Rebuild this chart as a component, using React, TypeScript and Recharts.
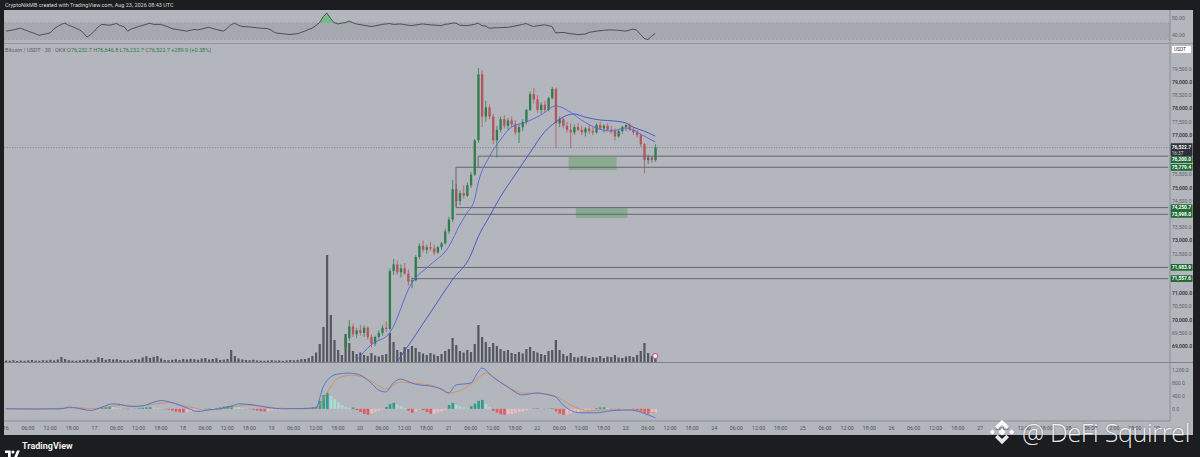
import React from 'react';
import {
  ComposedChart,
  Bar,
  Line,
  Area,
  XAxis,
  YAxis,
  ReferenceLine,
  ReferenceArea,
  ReferenceDot,
  Cell,
} from 'recharts';

// time axis: one slot per hour, hour 0 = day 16 00:00
const FIRST_DAY = 16;
const HOUR_SLOTS = 316;

const rsiPoints: [number, number][] = [
  [0, 50], [2, 53], [4, 57], [6, 50], [8, 44], [9, 40], [11, 44], [12, 46], [13, 55], [14, 61],
  [15, 66], [16, 69], [17, 64], [18, 61], [19, 57], [20, 53], [21, 46], [22, 36], [23, 42], [24, 50],
  [25, 60], [26, 66], [28, 64], [30, 68], [31, 63], [32, 61], [33, 50], [34, 55], [36, 61], [38, 66],
  [39, 69], [40, 66], [42, 66], [44, 60], [45, 56], [47, 53], [49, 50], [51, 54], [52, 53], [54, 57],
  [55, 59], [57, 54], [59, 50], [60, 57], [61, 65], [62, 69], [63, 64], [64, 61], [66, 60], [67, 59],
  [69, 57], [71, 56], [72, 52], [73, 46], [75, 44], [77, 42], [79, 44], [81, 50], [82, 54], [83, 57],
  [84, 63], [85, 70], [86, 84], [87, 93], [88, 80], [89, 70], [90, 67], [91, 69], [92, 70], [93, 74],
  [94, 70], [95, 67], [97, 64], [99, 61], [100, 62], [102, 66], [104, 68], [105, 66], [107, 67], [109, 64],
  [110, 63], [112, 66], [113, 67], [115, 65], [118, 63], [119, 66], [120, 67], [121, 69], [122, 69], [123, 64],
  [125, 63], [127, 66], [128, 69], [129, 63], [130, 62], [131, 57], [133, 58], [136, 59], [138, 62], [140, 66],
  [141, 68], [142, 64], [143, 61], [145, 64], [146, 65], [147, 63], [148, 61], [149, 46], [151, 47], [153, 44],
  [155, 42], [157, 43], [158, 47], [160, 50], [162, 52], [164, 53], [166, 52], [168, 50], [170, 55], [171, 52],
  [172, 42], [173, 33], [174, 30], [175, 38], [176, 45],
];
const rsiTicks = [80, 40];

// volume per hour (BTC)
const volumes = [
  15, 12, 18, 10, 14, 12, 16, 20, 14, 12,
  18, 15, 22, 16, 25, 50, 30, 18, 14, 12,
  16, 20, 25, 18, 22, 48, 40, 22, 30, 25,
  28, 20, 18, 16, 22, 30, 25, 45, 58, 40,
  52, 60, 35, 20, 18, 22, 28, 20, 30, 25,
  32, 28, 22, 35, 40, 25, 30, 38, 20, 24,
  30, 120, 60, 35, 25, 20, 18, 22, 15, 14,
  12, 15, 18, 14, 16, 12, 15, 20, 18, 22,
  28, 30, 40, 60, 95, 180, 350, 1070, 470, 220,
  120, 70, 280, 190, 110, 80, 95, 70, 60, 90,
  65, 55, 70, 80, 290, 200, 120, 100, 150, 130,
  160, 140, 100, 85, 70, 90, 75, 60, 80, 110,
  130, 240, 170, 110, 95, 120, 100, 180, 370, 250,
  200, 150, 190, 160, 130, 110, 120, 90, 80, 100,
  85, 130, 150, 110, 95, 80, 70, 110, 120, 220,
  120, 80, 60, 90, 50, 45, 60, 55, 40, 50,
  45, 60, 40, 55, 50, 70, 45, 40, 55, 60,
  50, 70, 110, 190, 90, 60, 70,
];

// candles from hour 92 on (earlier ones sit below the visible range): open, high, low, close
const CANDLE_START = 92;
const candles: [number, number, number, number][] = [
  [68950, 69350, 68700, 69300], [69300, 69990, 69200, 69750], [69750, 69850, 69350, 69450],
  [69450, 69700, 69300, 69600], [69600, 69800, 69400, 69500], [69500, 69780, 69350, 69700],
  [69700, 69750, 69250, 69350], [69350, 69450, 68950, 69100], [69100, 69400, 69000, 69350],
  [69350, 69600, 69250, 69500], [69500, 69800, 69400, 69700], [69700, 69950, 69550, 69650],
  [69650, 71950, 69600, 71850], [71850, 72300, 71700, 72100], [72100, 72250, 71700, 71800],
  [71800, 72100, 71600, 71950], [71950, 72150, 71700, 71750], [71750, 71900, 71300, 71450],
  [71450, 71600, 71200, 71500], [71500, 72450, 71450, 72380], [72380, 72900, 72300, 72800],
  [72800, 73000, 72550, 72650], [72650, 72850, 72500, 72750], [72750, 72950, 72600, 72700],
  [72700, 72850, 72450, 72550], [72550, 72800, 72500, 72750], [72750, 72950, 72650, 72900],
  [72900, 73450, 72850, 73350], [73350, 73900, 73250, 73800], [73800, 75300, 73700, 74950],
  [74950, 75150, 74300, 74500], [74500, 74900, 74350, 74800], [74800, 75100, 74600, 74700],
  [74700, 75200, 74650, 75100], [75100, 75600, 75000, 75500], [75500, 76850, 75450, 76800],
  [76800, 79540, 76700, 79300], [79300, 79450, 77300, 77700], [77700, 78300, 77500, 78050],
  [78050, 78150, 77600, 77700], [77700, 77800, 76650, 76800], [76800, 77350, 76150, 77200],
  [77200, 77700, 77100, 77600], [77600, 77750, 77250, 77350], [77350, 77650, 77200, 77550],
  [77550, 77700, 77300, 77400], [77400, 77550, 77000, 77100], [77100, 77400, 76700, 77300],
  [77300, 77600, 77150, 77500], [77500, 78000, 77400, 77950], [77950, 78650, 77900, 78550],
  [78550, 78780, 78200, 78350], [78350, 78500, 77850, 77950], [77950, 78250, 77800, 78150],
  [78150, 78300, 77850, 77950], [77950, 78450, 77900, 78400], [78400, 78820, 78350, 78750],
  [78750, 78800, 76500, 77450], [77450, 77700, 77300, 77600], [77600, 77650, 77250, 77350],
  [77350, 77500, 77100, 77200], [77200, 77450, 76500, 77100], [77100, 77400, 77000, 77300],
  [77300, 77450, 77150, 77200], [77200, 77350, 77000, 77100], [77100, 77300, 76950, 77250],
  [77250, 77380, 77050, 77150], [77150, 77300, 77000, 77100], [77100, 77450, 77050, 77380],
  [77380, 77500, 77200, 77250], [77250, 77420, 77100, 77350], [77350, 77450, 77150, 77200],
  [77200, 77350, 77050, 77150], [77150, 77250, 76800, 76950], [76950, 77200, 76900, 77150],
  [77150, 77350, 77050, 77300], [77300, 77420, 77150, 77380], [77380, 77450, 77150, 77200],
  [77200, 77300, 77000, 77100], [77100, 77200, 76900, 77000], [77000, 77050, 76550, 76650],
  [76650, 76700, 75550, 76050], [76050, 76250, 75900, 76150], [76150, 76200, 75950, 76050],
  [76050, 76650, 75980, 76522.7],
];

// moving averages, [hour, price]
const maFastPoints: [number, number][] = [
  [95, 68450], [99, 69050], [104, 69500], [110, 71390], [115, 72080], [120, 72760], [123, 73590],
  [125, 74050], [127, 74540], [128, 75180], [131, 76170], [134, 76810], [137, 77300], [141, 77490],
  [145, 77760], [149, 78100], [153, 77870], [156, 77570], [160, 77270], [164, 77150], [168, 77270],
  [170, 77190], [173, 76960], [176, 76740],
];
const maSlowPoints: [number, number][] = [
  [106, 68400], [111, 69420], [115, 70260], [121, 71510], [126, 72450], [128, 73140], [131, 73900],
  [134, 74650], [138, 75490], [142, 76320], [146, 77120], [149, 77490], [151, 77680], [154, 77800],
  [157, 77680], [161, 77570], [165, 77530], [168, 77460], [170, 77300], [173, 77150], [176, 76960],
];

// drawn levels and zones
const levels = [76200, 75779.4, 74250.7, 73998, 71983.9, 71557.6];
const levelStarts = [128, 122, 122, 122, 111, 110];
const brackets: [number, number, number][] = [
  [122, 74250.7, 75779.4],
  [128, 75779.4, 76200],
];
const zones: [number, number, number, number][] = [
  [153, 165, 75680, 76170],
  [155, 168, 73860, 74240],
];
const lastPrice = 76522.7;
const priceTicks = [
  79500, 79000, 78500, 78000, 77500, 77000, 75500, 75000, 74500, 73500, 73000, 72500,
  71000, 70500, 70000, 69500, 69000,
];

// MACD (12, 26, 9)
const macdPoints: [number, number][] = [
  [0, 0], [8, -5], [15, 0], [17, 52], [19, 31], [23, -52], [26, 52], [29, 155], [31, 134], [34, 72],
  [37, 93], [42, 258], [45, 196], [49, 31], [52, -83], [55, -30], [58, 0], [62, 114], [63, 155], [67, 124],
  [71, 41], [75, 0], [80, 10], [84, 31], [86, 682], [88, 992], [90, 1085], [93, 1116], [96, 1054], [99, 806],
  [101, 589], [103, 527], [105, 806], [107, 930], [110, 806], [112, 744], [115, 713], [118, 620], [120, 496],
  [122, 744], [126, 806], [128, 1150], [129, 1271], [132, 992], [136, 682], [140, 434], [144, 496], [147, 434],
  [149, 372], [151, 124], [154, -93], [156, -124], [160, -124], [164, -62], [169, -31], [174, -186], [176, -279],
];
const signalPoints: [number, number][] = [
  [0, 0], [10, 0], [16, 20], [20, 30], [24, 0], [28, 60], [32, 110], [36, 80], [40, 150], [44, 196],
  [48, 100], [51, 30], [54, -40], [58, -10], [62, 60], [65, 114], [69, 90], [73, 30], [78, 5], [84, 0],
  [86, 300], [88, 682], [90, 961], [94, 1054], [99, 868], [103, 620], [107, 837], [110, 806], [116, 713],
  [120, 496], [125, 682], [128, 961], [130, 1116], [134, 837], [140, 496], [147, 465], [150, 341], [154, 62],
  [158, -62], [164, -31], [170, -50], [174, -93], [176, -124],
];
const histogram = [
  5, 3, -2, -4, -3, 2, 4, 3, -2, -5,
  -6, -3, 2, 6, 10, 18, 22, 12, 4, -8,
  -14, -20, -12, -4, 8, 25, 45, 62, 72, 55,
  35, 18, -6, -14, -10, 6, 18, 32, 45, 52,
  40, 28, 12, -10, -30, -55, -85, -110, -115, -96,
  -70, -45, -20, -8, 5, 12, 8, 20, 45, 70,
  88, 93, 75, 50, 28, 10, -10, -30, -55, -72,
  -83, -70, -50, -32, -18, -8, -4, 3, 8, 10,
  14, 20, 28, 40, 60, 250, 430, 500, 400, 300,
  200, 120, 60, 30, 40, -40, -100, -160, -186, -150,
  -100, -60, -20, 60, 150, 186, 130, 80, 30, -60,
  -124, -80, -20, -40, -100, -155, -150, -120, -80, -40,
  120, 186, 120, 80, 40, 20, 80, 160, 250, 279,
  150, 60, -60, -120, -170, -186, -180, -160, -130, -100,
  -80, -50, -20, 10, 15, 5, -10, 8, 20, -80,
  -150, -186, -170, -140, -110, -90, -70, -60, -40, -20,
  20, 40, 45, 30, -10, -20, -30, -20, -15, -10,
  -20, -40, -80, -130, -155, -150, -140,
];
const macdTicks = [1200, 800, 400, 0];

// ---- layout / style ----
const W = 1189;
const AXIS_W = 23;
const PRICE_H = 318;
const PRICE_DOMAIN: [number, number] = [68400, 80450];
const BG = '#b3b6bd';
const FRAME = '#1c1d20';
const AXIS_LINE = '#8b8e95';
const UP = '#2f7d4e';
const DOWN = '#b5545b';
const FONT = 'Roboto, "Liberation Sans", sans-serif';
const margin = { top: 0, right: 0, bottom: 0, left: 0 };

type Row = {
  h: number;
  vol: number | null;
  hist: number | null;
  o?: number;
  hi?: number;
  lo?: number;
  cl?: number;
  rsi?: number;
  macd?: number;
  signal?: number;
  maFast?: number;
  maSlow?: number;
};

const rows: Row[] = Array.from({ length: HOUR_SLOTS }, (_, h) => {
  const c = candles[h - CANDLE_START];
  return {
    h,
    vol: volumes[h] ?? null,
    hist: histogram[h] ?? null,
    o: c?.[0],
    hi: c?.[1],
    lo: c?.[2],
    cl: c?.[3],
  };
});
rsiPoints.forEach(([h, v]) => (rows[h].rsi = v));
macdPoints.forEach(([h, v]) => (rows[h].macd = v));
signalPoints.forEach(([h, v]) => (rows[h].signal = v));
maFastPoints.forEach(([h, v]) => (rows[h].maFast = v));
maSlowPoints.forEach(([h, v]) => (rows[h].maSlow = v));

const fmt1 = (v: number) =>
  v.toLocaleString('en-US', { minimumFractionDigits: 1, maximumFractionDigits: 1 });
const fmtHour = (h: number) =>
  h % 24 === 0 ? String(FIRST_DAY + h / 24) : `${String(h % 24).padStart(2, '0')}:00`;

const histColor = (i: number) => {
  const v = histogram[i];
  if (v == null) return 'transparent';
  const prev = i > 0 ? histogram[i - 1] : v;
  if (v >= 0) return v >= prev ? '#2f9c8b' : '#a9dcd3';
  return v < prev ? '#e05a5f' : '#f2bcc0';
};

const Candle = (props: any) => {
  const { x, y, width, height, payload } = props;
  if (!payload || payload.o == null) return null;
  const { o, hi, lo, cl } = payload;
  const top = Math.min(y, y + height);
  const span = Math.abs(height);
  const range = hi - lo || 1;
  const py = (v: number) => top + ((hi - v) / range) * span;
  const color = cl >= o ? UP : DOWN;
  const bTop = py(Math.max(o, cl));
  const bBot = py(Math.min(o, cl));
  const cx = x + width / 2;
  return (
    <g>
      <line x1={cx} x2={cx} y1={top} y2={top + span} stroke={color} strokeWidth={0.8} />
      <rect x={x} y={bTop} width={width} height={Math.max(bBot - bTop, 0.7)} fill={color} />
    </g>
  );
};

const AxisText = (props: any, label: string, strong = false) => (
  <text
    x={props.x}
    y={props.y}
    dy={1.8}
    textAnchor="start"
    fontSize={5.1}
    fontFamily={FONT}
    fontWeight={strong ? 600 : 400}
    fill={strong ? '#35373c' : '#5f6269'}
  >
    {label}
  </text>
);

const PriceTick = (props: any) => {
  const v = props.payload.value as number;
  return AxisText(props, fmt1(v), v % 1000 === 0);
};
const RsiTick = (props: any) => AxisText(props, (props.payload.value as number).toFixed(2));
const MacdTick = (props: any) => AxisText(props, fmt1(props.payload.value as number));

const pxPerPrice = PRICE_H / (PRICE_DOMAIN[1] - PRICE_DOMAIN[0]);

const levelLabel = (value: number) => (props: any) => {
  const vb = props.viewBox;
  const x = vb.x + vb.width + 0.5;
  const y = vb.y;
  const lastY = y - (lastPrice - value) * pxPerPrice;
  const top = value < lastPrice ? Math.max(y - 3.3, lastY + 8.7) : y - 3.3;
  return (
    <g>
      <rect x={x} y={top} width={AXIS_W - 1} height={6.7} fill="#1f6b34" rx={0.6} />
      <text x={x + 1.2} y={top + 4.9} fontSize={4.9} fontWeight={700} fontFamily={FONT} fill="#ffffff">
        {fmt1(value)}
      </text>
    </g>
  );
};

const lastLabel = (props: any) => {
  const vb = props.viewBox;
  const x = vb.x + vb.width + 0.5;
  const y = vb.y;
  return (
    <g>
      <rect x={x} y={y - 4.3} width={AXIS_W - 1} height={12.8} fill="#2e3139" rx={0.6} />
      <text x={x + 1.2} y={y + 1.8} fontSize={4.9} fontWeight={700} fontFamily={FONT} fill="#ffffff">
        {fmt1(lastPrice)}
      </text>
      <text x={x + 1.2} y={y + 7} fontSize={4.7} fontFamily={FONT} fill="#d6d8de">
        16:37
      </text>
    </g>
  );
};

const BinanceLogo = () => (
  <svg width={30} height={30} viewBox="0 0 28 28">
    <g fill="#ffffff" fillOpacity={0.9}>
      <polygon points="14,2.5 20.5,9 18,11.5 14,7.5 10,11.5 7.5,9" />
      <polygon points="14,25.5 20.5,19 18,16.5 14,20.5 10,16.5 7.5,19" />
      <polygon points="14,10.5 17.5,14 14,17.5 10.5,14" />
      <polygon points="5,11.5 7.5,14 5,16.5 2.5,14" />
      <polygon points="23,11.5 25.5,14 23,16.5 20.5,14" />
    </g>
  </svg>
);

const TvLogo = () => (
  <svg width={15} height={8} viewBox="0 0 17 8">
    <path d="M0 0h6.5v7.5H3.4V3H0z" fill="#ffffff" />
    <circle cx={9} cy={1.8} r={1.7} fill="#ffffff" />
    <polygon points="10.5,7.5 13.6,0 16.8,0 13.7,7.5" fill="#ffffff" />
  </svg>
);

const App: React.FC = () => {
  return (
    <div
      style={{
        position: 'absolute',
        left: 0,
        top: 0,
        width: 1200,
        height: 457,
        background: FRAME,
        overflow: 'hidden',
        fontFamily: FONT,
      }}
    >
      <div style={{ position: 'absolute', left: 5, top: 1.5, fontSize: 5.5, color: '#d6d6d6', whiteSpace: 'nowrap' }}>
        CryptoNikMB created with TradingView.com, Aug 23, 2026 08:43 UTC
      </div>

      <div style={{ position: 'absolute', left: 4, top: 10, width: W, height: 425, background: BG }} />

      {/* RSI pane */}
      <div style={{ position: 'absolute', left: 4, top: 10 }}>
        <ComposedChart width={W} height={33} data={rows} margin={margin}>
          <XAxis dataKey="h" scale="band" hide />
          <YAxis
            orientation="right"
            width={AXIS_W}
            domain={[22, 100]}
            ticks={rsiTicks}
            allowDataOverflow
            interval={0}
            tick={RsiTick}
            tickLine={false}
            tickSize={0}
            tickMargin={2}
            axisLine={{ stroke: AXIS_LINE }}
          />
          <ReferenceArea y1={30} y2={70} fill="#a5a8af" fillOpacity={1} stroke="none" />
          <ReferenceLine y={70} stroke="#979aa1" strokeDasharray="2 2" strokeWidth={0.6} />
          <ReferenceLine y={30} stroke="#979aa1" strokeDasharray="2 2" strokeWidth={0.6} />
          <Area
            dataKey={(d: Row) => (d.rsi != null && d.rsi >= 70 ? d.rsi : null)}
            baseValue={70}
            type="linear"
            fill="#6dbb80"
            fillOpacity={0.9}
            stroke="none"
            isAnimationActive={false}
          />
          <Line
            dataKey="rsi"
            type="linear"
            stroke="#43454b"
            strokeWidth={0.9}
            dot={false}
            connectNulls
            isAnimationActive={false}
          />
        </ComposedChart>
      </div>
      <div style={{ position: 'absolute', left: 4, top: 42.5, width: W, height: 1.6, background: '#92959c' }} />

      {/* price pane: volume layer */}
      <div style={{ position: 'absolute', left: 4, top: 44 }}>
        <ComposedChart width={W} height={PRICE_H} data={rows} margin={{ ...margin, right: AXIS_W }}>
          <XAxis dataKey="h" hide />
          <YAxis hide domain={[0, 3180]} allowDataOverflow />
          <Bar dataKey="vol" fill="#54575e" barSize={2.2} isAnimationActive={false} />
          <ReferenceDot x={176} y={60} r={2.6} fill="#f4eef4" stroke="#b8479a" strokeWidth={1} />
        </ComposedChart>
      </div>

      {/* price pane: candles, averages, drawings */}
      <div style={{ position: 'absolute', left: 4, top: 44 }}>
        <ComposedChart width={W} height={PRICE_H} data={rows} margin={margin}>
          <XAxis dataKey="h" hide />
          <YAxis
            orientation="right"
            width={AXIS_W}
            domain={PRICE_DOMAIN}
            ticks={priceTicks}
            allowDataOverflow
            interval={0}
            tick={PriceTick}
            tickLine={false}
            tickSize={0}
            tickMargin={2}
            axisLine={{ stroke: AXIS_LINE }}
          />
          {zones.map(([x1, x2, y1, y2], i) => (
            <ReferenceArea key={`z${i}`} x1={x1} x2={x2} y1={y1} y2={y2} fill="#86a98d" fillOpacity={0.9} stroke="none" />
          ))}
          {levels.map((v, i) => (
            <ReferenceLine
              key={`l${i}`}
              segment={[{ x: levelStarts[i], y: v }, { x: HOUR_SLOTS - 1, y: v }]}
              stroke="#5b5e65"
              strokeWidth={0.9}
            />
          ))}
          {brackets.map(([x, y1, y2], i) => (
            <ReferenceLine
              key={`b${i}`}
              segment={[{ x, y: y1 }, { x, y: y2 }]}
              stroke="#5b5e65"
              strokeWidth={0.9}
            />
          ))}
          <ReferenceLine y={lastPrice} stroke="#6b6e75" strokeDasharray="1 1.6" strokeWidth={0.7} label={lastLabel} />
          {levels.map((v, i) => (
            <ReferenceLine key={`t${i}`} y={v} stroke="none" label={levelLabel(v)} />
          ))}
          <Bar
            dataKey={(d: Row) => (d.o != null ? [d.lo, d.hi] : null)}
            shape={Candle}
            barSize={2.3}
            isAnimationActive={false}
          />
          <Line
            dataKey="maSlow"
            type="monotone"
            stroke="#3f50c4"
            strokeWidth={0.9}
            dot={false}
            connectNulls
            isAnimationActive={false}
          />
          <Line
            dataKey="maFast"
            type="monotone"
            stroke="#5467d8"
            strokeWidth={0.9}
            dot={false}
            connectNulls
            isAnimationActive={false}
          />
        </ComposedChart>
      </div>

      <div style={{ position: 'absolute', left: 5, top: 46.5, fontSize: 5.5, whiteSpace: 'nowrap', color: '#5b5e65' }}>
        Bitcoin / USDT · 30 · OKX{' '}
        <span>O</span><span style={{ color: '#2d7a45' }}>76,232.7 </span>
        <span>H</span><span style={{ color: '#2d7a45' }}>76,646.8 </span>
        <span>L</span><span style={{ color: '#2d7a45' }}>76,232.7 </span>
        <span>C</span><span style={{ color: '#2d7a45' }}>76,522.7 +289.9 (+0.38%)</span>
      </div>
      <div
        style={{
          position: 'absolute',
          left: 1172,
          top: 46,
          width: 19,
          height: 7,
          background: '#ffffff',
          borderRadius: 1,
          fontSize: 4.8,
          lineHeight: '7px',
          color: '#333',
          paddingLeft: 2,
          boxSizing: 'border-box',
        }}
      >
        USDT
      </div>

      <div style={{ position: 'absolute', left: 4, top: 361.5, width: W, height: 1.2, background: '#80838a' }} />

      {/* MACD pane + time axis */}
      <div style={{ position: 'absolute', left: 4, top: 363 }}>
        <ComposedChart width={W} height={72} data={rows} margin={margin}>
          <XAxis
            dataKey="h"
            height={14}
            interval={5}
            tickFormatter={fmtHour}
            tickLine={false}
            tickSize={3}
            axisLine={{ stroke: AXIS_LINE }}
            tick={{ fontSize: 5.3, fill: '#4f5258', fontFamily: FONT }}
          />
          <YAxis
            orientation="right"
            width={AXIS_W}
            domain={[-380, 1430]}
            ticks={macdTicks}
            allowDataOverflow
            interval={0}
            tick={MacdTick}
            tickLine={false}
            tickSize={0}
            tickMargin={2}
            axisLine={{ stroke: AXIS_LINE }}
          />
          <Bar dataKey="hist" barSize={2.6} isAnimationActive={false}>
            {rows.map((r, i) => (
              <Cell key={r.h} fill={histColor(i)} />
            ))}
          </Bar>
          <Line
            dataKey="signal"
            type="monotone"
            stroke="#d28e5e"
            strokeWidth={0.9}
            dot={false}
            connectNulls
            isAnimationActive={false}
          />
          <Line
            dataKey="macd"
            type="monotone"
            stroke="#4f6cd6"
            strokeWidth={0.9}
            dot={false}
            connectNulls
            isAnimationActive={false}
          />
        </ComposedChart>
      </div>

      {/* footer */}
      <div style={{ position: 'absolute', left: 5, top: 443 }}>
        <TvLogo />
      </div>
      <div style={{ position: 'absolute', left: 22, top: 440.5, fontSize: 9, fontWeight: 700, color: '#f0f0f0' }}>
        TradingView
      </div>

      {/* watermark */}
      <div style={{ position: 'absolute', left: 987, top: 417 }}>
        <BinanceLogo />
      </div>
      <div
        style={{
          position: 'absolute',
          left: 1022,
          top: 418,
          fontSize: 25,
          lineHeight: '28px',
          fontWeight: 300,
          fontFamily: '"Open Sans", sans-serif',
          color: 'rgba(255,255,255,0.92)',
          textShadow: '0 0 2px rgba(0,0,0,0.35)',
          whiteSpace: 'nowrap',
          letterSpacing: -0.3,
        }}
      >
        @ DeFi Squirrel
      </div>
    </div>
  );
};

export default App;
